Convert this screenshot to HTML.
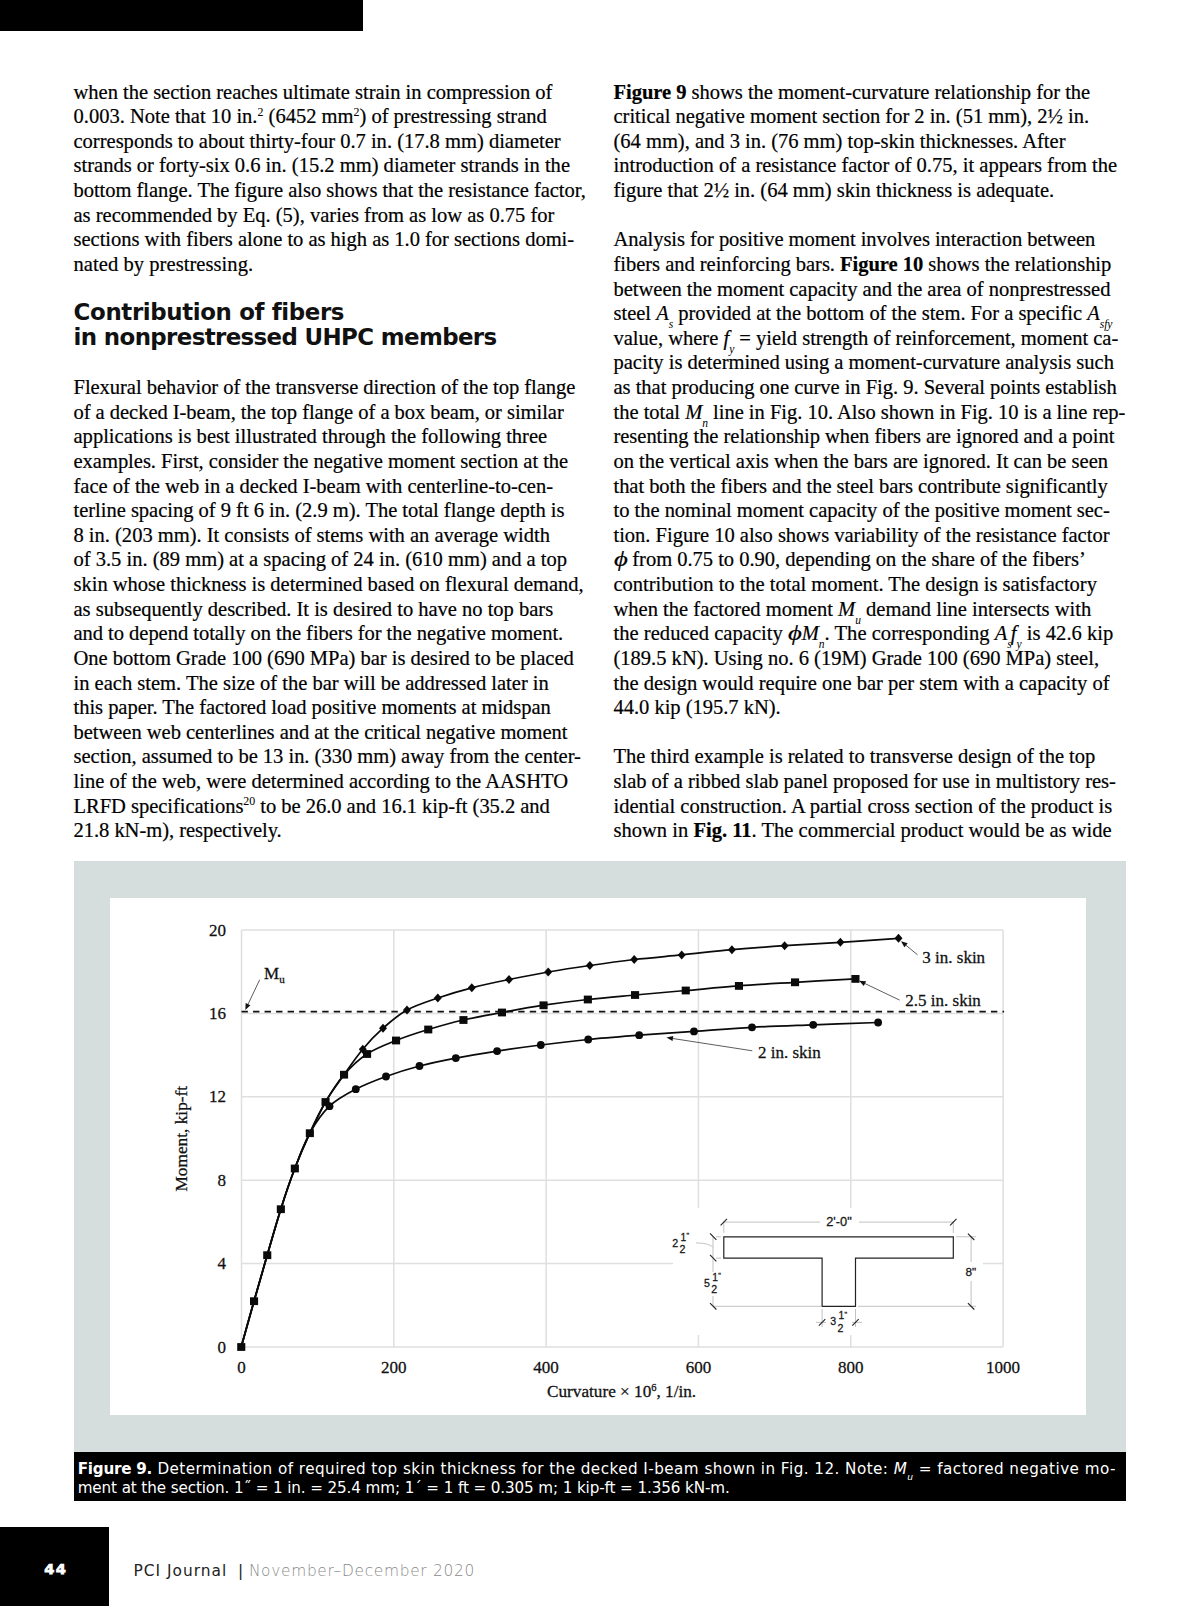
<!DOCTYPE html>
<html lang="en"><head><meta charset="utf-8"><title>PCI Journal page 44</title>
<style>
html,body{margin:0;padding:0;background:#fff;}
body{width:1200px;height:1606px;position:relative;overflow:hidden;font-family:"Liberation Serif",serif;color:#111;}
.ln{position:absolute;white-space:nowrap;font-size:20.55px;line-height:24px;height:24px;color:#000;-webkit-text-stroke:0.2px #000;}
.ln sup{-webkit-text-stroke:0.05px #000;font-size:58%;vertical-align:baseline;position:relative;top:-7.5px;line-height:0;}
.ln sub{-webkit-text-stroke:0;font-size:56%;vertical-align:baseline;position:relative;top:8.2px;line-height:0;font-style:italic;}
.ln sub.t{margin-right:-3px;}
.ln i.phi{display:inline-block;transform:scaleX(1.3);transform-origin:0 50%;margin-right:3px;}
.topbar{position:absolute;left:0;top:0;width:363.1px;height:30.7px;background:#000;}
.h2{position:absolute;left:73.6px;font-family:"DejaVu Sans","Liberation Sans",sans-serif;font-weight:bold;font-size:22.9px;line-height:25px;white-space:nowrap;color:#111;}
.fig{position:absolute;left:74.1px;top:861px;width:1052px;height:591px;background:#d6dedd;}
.plot{position:absolute;left:110.3px;top:897.7px;width:975.9px;height:517.5px;background:#fff;}
.cap{position:absolute;left:74.1px;top:1452px;width:1052px;height:49px;background:#000;color:#fff;font-family:"DejaVu Sans","Liberation Sans",sans-serif;font-size:15.2px;letter-spacing:0.42px;}
.cap div{position:absolute;left:3.6px;white-space:nowrap;line-height:19px;}
.pg{position:absolute;left:0;top:1527.1px;width:108.8px;height:79px;background:#000;}
.pg span{position:absolute;left:43.5px;top:1558.5px;color:#fff;font-family:"Liberation Sans",sans-serif;font-weight:bold;font-size:15.5px;}
.foot{position:absolute;left:133.6px;top:1560.6px;font-family:"DejaVu Sans","Liberation Sans",sans-serif;font-size:15.4px;line-height:20px;white-space:nowrap;color:#222;letter-spacing:0.75px;}
.foot span{color:#8a8a8a;font-weight:200;letter-spacing:0.7px;}
</style></head><body>
<div class="topbar"></div>
<div class="ln" id="a0" style="left:73.5px;top:79.55px;letter-spacing:-0.0266px">when the section reaches ultimate strain in compression of</div>
<div class="ln" id="a1" style="left:73.5px;top:104.17px;letter-spacing:-0.0152px">0.003. Note that 10 in.<sup>2</sup> (6452 mm<sup>2</sup>) of prestressing strand</div>
<div class="ln" id="a2" style="left:73.5px;top:128.80px;letter-spacing:-0.0121px">corresponds to about thirty-four 0.7 in. (17.8 mm) diameter</div>
<div class="ln" id="a3" style="left:73.5px;top:153.42px;letter-spacing:-0.0086px">strands or forty-six 0.6 in. (15.2 mm) diameter strands in the</div>
<div class="ln" id="a4" style="left:73.5px;top:178.04px;letter-spacing:-0.0451px">bottom flange. The figure also shows that the resistance factor,</div>
<div class="ln" id="a5" style="left:73.5px;top:202.66px;letter-spacing:-0.0125px">as recommended by Eq. (5), varies from as low as 0.75 for</div>
<div class="ln" id="a6" style="left:73.5px;top:227.29px;letter-spacing:-0.0248px">sections with fibers alone to as high as 1.0 for sections domi-</div>
<div class="ln" id="a7" style="left:73.5px;top:251.91px;letter-spacing:0.0491px">nated by prestressing.</div>
<div class="h2" id="h1" style="top:300.3px;letter-spacing:-0.37px">Contribution of fibers</div>
<div class="h2" id="h2" style="top:325.3px;letter-spacing:-0.62px">in nonprestressed UHPC members</div>
<div class="ln" id="b0" style="left:73.5px;top:375.03px;letter-spacing:-0.0488px">Flexural behavior of the transverse direction of the top flange</div>
<div class="ln" id="b1" style="left:73.5px;top:399.65px;letter-spacing:-0.0458px">of a decked I-beam, the top flange of a box beam, or similar</div>
<div class="ln" id="b2" style="left:73.5px;top:424.27px;letter-spacing:-0.0089px">applications is best illustrated through the following three</div>
<div class="ln" id="b3" style="left:73.5px;top:448.90px;letter-spacing:-0.0288px">examples. First, consider the negative moment section at the</div>
<div class="ln" id="b4" style="left:73.5px;top:473.52px;letter-spacing:-0.0240px">face of the web in a decked I-beam with centerline-to-cen-</div>
<div class="ln" id="b5" style="left:73.5px;top:498.14px;letter-spacing:-0.0266px">terline spacing of 9 ft 6 in. (2.9 m). The total flange depth is</div>
<div class="ln" id="b6" style="left:73.5px;top:522.76px;letter-spacing:-0.0195px">8 in. (203 mm). It consists of stems with an average width</div>
<div class="ln" id="b7" style="left:73.5px;top:547.39px;letter-spacing:-0.0097px">of 3.5 in. (89 mm) at a spacing of 24 in. (610 mm) and a top</div>
<div class="ln" id="b8" style="left:73.5px;top:572.01px;letter-spacing:-0.0274px">skin whose thickness is determined based on flexural demand,</div>
<div class="ln" id="b9" style="left:73.5px;top:596.63px;letter-spacing:-0.0237px">as subsequently described. It is desired to have no top bars</div>
<div class="ln" id="b10" style="left:73.5px;top:621.26px;letter-spacing:-0.0464px">and to depend totally on the fibers for the negative moment.</div>
<div class="ln" id="b11" style="left:73.5px;top:645.88px;letter-spacing:-0.0215px">One bottom Grade 100 (690 MPa) bar is desired to be placed</div>
<div class="ln" id="b12" style="left:73.5px;top:670.50px;letter-spacing:-0.0122px">in each stem. The size of the bar will be addressed later in</div>
<div class="ln" id="b13" style="left:73.5px;top:695.13px;letter-spacing:-0.0385px">this paper. The factored load positive moments at midspan</div>
<div class="ln" id="b14" style="left:73.5px;top:719.75px;letter-spacing:-0.0392px">between web centerlines and at the critical negative moment</div>
<div class="ln" id="b15" style="left:73.5px;top:744.37px;letter-spacing:-0.0291px">section, assumed to be 13 in. (330 mm) away from the center-</div>
<div class="ln" id="b16" style="left:73.5px;top:768.99px;letter-spacing:-0.0051px">line of the web, were determined according to the AASHTO</div>
<div class="ln" id="b17" style="left:73.5px;top:793.62px;letter-spacing:-0.0413px">LRFD specifications<sup>20</sup> to be 26.0 and 16.1 kip-ft (35.2 and</div>
<div class="ln" id="b18" style="left:73.5px;top:818.24px;letter-spacing:-0.0433px">21.8 kN-m), respectively.</div>
<div class="ln" id="c0" style="left:613.5px;top:79.55px;letter-spacing:-0.0305px"><b>Figure 9</b> shows the moment-curvature relationship for the</div>
<div class="ln" id="c1" style="left:613.5px;top:104.17px;letter-spacing:-0.0265px">critical negative moment section for 2 in. (51 mm), 2½ in.</div>
<div class="ln" id="c2" style="left:613.5px;top:128.80px;letter-spacing:-0.0214px">(64 mm), and 3 in. (76 mm) top-skin thicknesses. After</div>
<div class="ln" id="c3" style="left:613.5px;top:153.42px;letter-spacing:-0.0108px">introduction of a resistance factor of 0.75, it appears from the</div>
<div class="ln" id="c4" style="left:613.5px;top:178.04px;letter-spacing:-0.0197px">figure that 2½ in. (64 mm) skin thickness is adequate.</div>
<div class="ln" id="c6" style="left:613.5px;top:227.29px;letter-spacing:-0.0575px">Analysis for positive moment involves interaction between</div>
<div class="ln" id="c7" style="left:613.5px;top:251.91px;letter-spacing:-0.0376px">fibers and reinforcing bars. <b>Figure 10</b> shows the relationship</div>
<div class="ln" id="c8" style="left:613.5px;top:276.53px;letter-spacing:-0.0302px">between the moment capacity and the area of nonprestressed</div>
<div class="ln" id="c9" style="left:613.5px;top:301.16px;letter-spacing:-0.0258px">steel <i>A</i><sub>s</sub> provided at the bottom of the stem. For a specific <i>A</i><sub>sfy</sub></div>
<div class="ln" id="c10" style="left:613.5px;top:325.78px;letter-spacing:-0.0147px">value, where <i>f</i><sub>y</sub> = yield strength of reinforcement, moment ca-</div>
<div class="ln" id="c11" style="left:613.5px;top:350.40px;letter-spacing:-0.0195px">pacity is determined using a moment-curvature analysis such</div>
<div class="ln" id="c12" style="left:613.5px;top:375.03px;letter-spacing:-0.0362px">as that producing one curve in Fig. 9. Several points establish</div>
<div class="ln" id="c13" style="left:613.5px;top:399.65px;letter-spacing:-0.0281px">the total <i>M</i><sub>n</sub> line in Fig. 10. Also shown in Fig. 10 is a line rep-</div>
<div class="ln" id="c14" style="left:613.5px;top:424.27px;letter-spacing:-0.0485px">resenting the relationship when fibers are ignored and a point</div>
<div class="ln" id="c15" style="left:613.5px;top:448.90px;letter-spacing:-0.0209px">on the vertical axis when the bars are ignored. It can be seen</div>
<div class="ln" id="c16" style="left:613.5px;top:473.52px;letter-spacing:-0.0609px">that both the fibers and the steel bars contribute significantly</div>
<div class="ln" id="c17" style="left:613.5px;top:498.14px;letter-spacing:-0.0321px">to the nominal moment capacity of the positive moment sec-</div>
<div class="ln" id="c18" style="left:613.5px;top:522.76px;letter-spacing:-0.0255px">tion. Figure 10 also shows variability of the resistance factor</div>
<div class="ln" id="c19" style="left:613.5px;top:547.39px;letter-spacing:-0.0233px"><i class="phi">ϕ</i> from 0.75 to 0.90, depending on the share of the fibers’</div>
<div class="ln" id="c20" style="left:613.5px;top:572.01px;letter-spacing:-0.0311px">contribution to the total moment. The design is satisfactory</div>
<div class="ln" id="c21" style="left:613.5px;top:596.63px;letter-spacing:-0.0085px">when the factored moment <i>M</i><sub>u</sub> demand line intersects with</div>
<div class="ln" id="c22" style="left:613.5px;top:621.26px;letter-spacing:0.0246px">the reduced capacity <i class="phi">ϕ</i><i>M</i><sub>n</sub>. The corresponding <i>A</i><sub class="t">s</sub><i style="margin-left:2px">f</i><sub>y</sub> is 42.6 kip</div>
<div class="ln" id="c23" style="left:613.5px;top:645.88px;letter-spacing:-0.0125px">(189.5 kN). Using no. 6 (19M) Grade 100 (690 MPa) steel,</div>
<div class="ln" id="c24" style="left:613.5px;top:670.50px;letter-spacing:-0.0165px">the design would require one bar per stem with a capacity of</div>
<div class="ln" id="c25" style="left:613.5px;top:695.13px;letter-spacing:-0.0316px">44.0 kip (195.7 kN).</div>
<div class="ln" id="c27" style="left:613.5px;top:744.37px;letter-spacing:-0.0145px">The third example is related to transverse design of the top</div>
<div class="ln" id="c28" style="left:613.5px;top:768.99px;letter-spacing:-0.0233px">slab of a ribbed slab panel proposed for use in multistory res-</div>
<div class="ln" id="c29" style="left:613.5px;top:793.62px;letter-spacing:0.0012px">idential construction. A partial cross section of the product is</div>
<div class="ln" id="c30" style="left:613.5px;top:818.24px;letter-spacing:-0.0043px">shown in <b>Fig. 11</b>. The commercial product would be as wide</div>
<div class="fig"></div>
<div class="plot"></div>
<svg style="position:absolute;left:110px;top:898px" width="976" height="517" viewBox="110 898 976 517" font-family="Liberation Serif, serif" fill="#111"><style>text{stroke:#111;stroke-width:.28px}</style>
<path d="M241.50 930.05V1347.0M393.82 930.05V1347.0M546.14 930.05V1347.0M698.46 930.05V1347.0M850.78 930.05V1347.0M1003.10 930.05V1347.0M241.5 1347.00H1003.1M241.5 1263.61H1003.1M241.5 1180.22H1003.1M241.5 1096.83H1003.1M241.5 1013.44H1003.1M241.5 930.05H1003.1" stroke="#dfdfdf" stroke-width="1.5" fill="none"/>
<path d="M241.5 1011.6H1004.1" stroke="#111" stroke-width="1.8" stroke-dasharray="6.4 5.13" fill="none"/>
<rect x="673" y="1208" width="310" height="127" fill="#fff"/>
<path d="M241.2 1347.0C243.4 1339.4 249.7 1316.5 254.0 1301.2C258.3 1286.0 262.8 1270.6 267.2 1255.2C271.7 1239.9 276.2 1223.7 280.8 1209.2C285.3 1194.8 289.9 1181.2 294.8 1168.5C299.6 1155.8 304.0 1143.6 309.8 1133.2C315.5 1122.9 321.8 1113.6 329.5 1106.2C337.2 1098.9 346.3 1094.2 355.8 1089.2C365.2 1084.3 375.4 1080.4 386.0 1076.5C396.6 1072.6 407.9 1069.1 419.5 1066.0C431.1 1062.9 442.8 1060.6 455.8 1058.1C468.7 1055.6 482.9 1053.3 497.1 1051.1C511.3 1048.9 525.6 1046.9 540.8 1045.0C555.9 1043.1 571.8 1041.1 588.2 1039.5C604.7 1037.9 621.6 1036.6 639.2 1035.2C656.9 1033.9 675.2 1032.7 694.0 1031.4C712.8 1030.1 732.1 1028.4 752.0 1027.3C771.9 1026.2 792.2 1025.6 813.2 1024.8C834.2 1024.0 867.3 1022.9 878.1 1022.5" stroke="#0a0a0a" stroke-width="1.75" fill="none" stroke-linejoin="round"/>
<path d="M241.2 1347.0C243.4 1339.4 249.7 1316.5 254.0 1301.2C258.3 1286.0 262.8 1270.6 267.2 1255.2C271.7 1239.9 276.2 1223.7 280.8 1209.2C285.3 1194.8 289.9 1181.2 294.8 1168.5C299.6 1155.8 304.6 1144.3 309.8 1133.2C314.9 1122.2 319.8 1111.8 325.5 1102.0C331.2 1092.2 337.8 1083.5 344.0 1074.8C350.2 1066.0 356.2 1057.0 362.8 1049.2C369.2 1041.5 375.6 1034.8 383.0 1028.2C390.4 1021.7 397.9 1015.0 407.0 1010.0C416.1 1005.0 427.0 1001.7 437.8 998.0C448.5 994.3 459.9 990.8 471.8 987.8C483.6 984.7 496.2 982.1 509.0 979.5C521.8 976.9 534.8 974.3 548.2 972.0C561.7 969.7 575.4 967.6 589.8 965.5C604.1 963.4 618.9 961.3 634.2 959.5C649.6 957.7 665.4 956.5 681.7 954.9C698.0 953.3 714.8 951.2 731.9 949.7C749.0 948.2 766.5 946.9 784.6 945.7C802.7 944.5 821.4 943.5 840.4 942.3C859.4 941.1 888.8 939.0 898.5 938.3" stroke="#0a0a0a" stroke-width="1.75" fill="none" stroke-linejoin="round"/>
<path d="M241.2 1347.0C243.4 1339.4 249.7 1316.5 254.0 1301.2C258.3 1286.0 262.8 1270.6 267.2 1255.2C271.7 1239.9 276.2 1223.7 280.8 1209.2C285.3 1194.8 289.9 1181.2 294.8 1168.5C299.6 1155.8 304.6 1144.3 309.8 1133.2C314.9 1122.2 319.8 1111.8 325.5 1102.0C331.2 1092.2 337.1 1082.8 344.0 1074.8C350.9 1066.8 358.3 1059.7 367.0 1054.0C375.7 1048.3 385.8 1044.6 396.0 1040.5C406.2 1036.4 417.0 1032.9 428.2 1029.5C439.5 1026.1 451.1 1022.8 463.4 1020.0C475.7 1017.2 488.5 1015.0 501.9 1012.5C515.2 1010.0 529.2 1007.4 543.5 1005.2C557.8 1003.1 572.5 1001.2 587.8 999.5C603.0 997.8 618.7 996.5 635.0 995.0C651.3 993.5 668.4 992.0 685.7 990.5C703.0 989.0 720.7 987.3 738.9 985.9C757.1 984.5 775.6 983.5 795.0 982.3C814.4 981.1 845.3 979.5 855.4 978.9" stroke="#0a0a0a" stroke-width="1.75" fill="none" stroke-linejoin="round"/>
<g fill="#0a0a0a"><circle cx="329.5" cy="1106.2" r="3.9"/><circle cx="355.8" cy="1089.2" r="3.9"/><circle cx="386.0" cy="1076.5" r="3.9"/><circle cx="419.5" cy="1066.0" r="3.9"/><circle cx="455.8" cy="1058.1" r="3.9"/><circle cx="497.1" cy="1051.1" r="3.9"/><circle cx="540.8" cy="1045.0" r="3.9"/><circle cx="588.2" cy="1039.5" r="3.9"/><circle cx="639.2" cy="1035.2" r="3.9"/><circle cx="694.0" cy="1031.4" r="3.9"/><circle cx="752.0" cy="1027.3" r="3.9"/><circle cx="813.2" cy="1024.8" r="3.9"/><circle cx="878.1" cy="1022.5" r="3.9"/><path d="M362.8 1044.8l4 4.5l-4 4.5l-4-4.5z"/><path d="M383.0 1023.8l4 4.5l-4 4.5l-4-4.5z"/><path d="M407.0 1005.5l4 4.5l-4 4.5l-4-4.5z"/><path d="M437.8 993.5l4 4.5l-4 4.5l-4-4.5z"/><path d="M471.8 983.2l4 4.5l-4 4.5l-4-4.5z"/><path d="M509.0 975.0l4 4.5l-4 4.5l-4-4.5z"/><path d="M548.2 967.5l4 4.5l-4 4.5l-4-4.5z"/><path d="M589.8 961.0l4 4.5l-4 4.5l-4-4.5z"/><path d="M634.2 955.0l4 4.5l-4 4.5l-4-4.5z"/><path d="M681.7 950.4l4 4.5l-4 4.5l-4-4.5z"/><path d="M731.9 945.2l4 4.5l-4 4.5l-4-4.5z"/><path d="M784.6 941.2l4 4.5l-4 4.5l-4-4.5z"/><path d="M840.4 937.8l4 4.5l-4 4.5l-4-4.5z"/><path d="M898.5 933.8l4 4.5l-4 4.5l-4-4.5z"/><rect x="237.2" y="1343.1" width="8.1" height="7.8"/><rect x="250.0" y="1297.3" width="8.1" height="7.8"/><rect x="263.2" y="1251.3" width="8.1" height="7.8"/><rect x="276.8" y="1205.3" width="8.1" height="7.8"/><rect x="290.8" y="1164.6" width="8.1" height="7.8"/><rect x="305.8" y="1129.3" width="8.1" height="7.8"/><rect x="321.5" y="1098.1" width="8.1" height="7.8"/><rect x="340.0" y="1070.8" width="8.1" height="7.8"/><rect x="363.0" y="1050.1" width="8.1" height="7.8"/><rect x="392.0" y="1036.6" width="8.1" height="7.8"/><rect x="424.2" y="1025.6" width="8.1" height="7.8"/><rect x="459.4" y="1016.1" width="8.1" height="7.8"/><rect x="497.9" y="1008.6" width="8.1" height="7.8"/><rect x="539.5" y="1001.4" width="8.1" height="7.8"/><rect x="583.8" y="995.6" width="8.1" height="7.8"/><rect x="631.0" y="991.1" width="8.1" height="7.8"/><rect x="681.7" y="986.6" width="8.1" height="7.8"/><rect x="734.9" y="982.0" width="8.1" height="7.8"/><rect x="791.0" y="978.4" width="8.1" height="7.8"/><rect x="851.4" y="975.0" width="8.1" height="7.8"/></g>
<text x="226" y="1352.6" font-size="17" text-anchor="end">0</text>
<text x="226" y="1269.2" font-size="17" text-anchor="end">4</text>
<text x="226" y="1185.8" font-size="17" text-anchor="end">8</text>
<text x="226" y="1102.4" font-size="17" text-anchor="end">12</text>
<text x="226" y="1019.0" font-size="17" text-anchor="end">16</text>
<text x="226" y="935.6" font-size="17" text-anchor="end">20</text>
<text x="241.5" y="1373" font-size="17" text-anchor="middle">0</text>
<text x="393.8" y="1373" font-size="17" text-anchor="middle">200</text>
<text x="546.1" y="1373" font-size="17" text-anchor="middle">400</text>
<text x="698.5" y="1373" font-size="17" text-anchor="middle">600</text>
<text x="850.8" y="1373" font-size="17" text-anchor="middle">800</text>
<text x="1003.1" y="1373" font-size="17" text-anchor="middle">1000</text>
<text x="621.6" y="1396.7" font-size="17.2" text-anchor="middle">Curvature × 10<tspan font-size="10.5" dy="-6">6</tspan><tspan dy="6">, 1/in.</tspan></text>
<text transform="translate(186.6 1138.7) rotate(-90)" font-size="17.3" text-anchor="middle">Moment, kip-ft</text>
<text x="264" y="979.2" font-size="17">M<tspan font-size="11" dy="3.6">u</tspan></text>
<text x="922.3" y="963" font-size="17">3 in. skin</text>
<text x="905.3" y="1005.5" font-size="17">2.5 in. skin</text>
<text x="758" y="1058.2" font-size="17">2 in. skin</text>
<path d="M259.7 979.7L248.1 1004.1" stroke="#333" stroke-width="0.8" fill="none"/><path d="M245.3 1010.0L245.7 1003.0L250.4 1005.2z" fill="#111"/>
<path d="M917.5 954.8L906.0 945.3" stroke="#333" stroke-width="0.8" fill="none"/><path d="M901.0 941.2L907.7 943.3L904.4 947.3z" fill="#111"/>
<path d="M899.6 1000.1L865.0 983.6" stroke="#333" stroke-width="0.8" fill="none"/><path d="M859.1 980.8L866.1 981.2L863.8 985.9z" fill="#111"/>
<path d="M752.3 1050.8L672.9 1038.5" stroke="#333" stroke-width="0.8" fill="none"/><path d="M666.5 1037.5L673.3 1035.9L672.5 1041.1z" fill="#111"/>
<path d="M723.8 1236.8H953.3V1258.1H855.5V1306.3H822.1V1258.1H723.8z" fill="#fff" stroke="#222" stroke-width="1.2"/>
<path d="M723.8 1222.1H820M859 1222.1H953.3M723.8 1221V1233M953.3 1221V1233M713 1236.8V1272M713 1296V1306.3M716 1236.8H721M716 1258.1H721M714 1306.3H822M696 1243C704 1243 709 1244 712.6 1247M971.1 1236.8V1262M971.1 1281V1306.3M956 1236.8H976M858 1306.3H976M822.1 1309V1327M855.5 1309V1327M816 1322.4H826M852 1322.4H862" stroke="#a8a8a8" stroke-width="0.7" fill="none"/>
<path d="M720.6 1225.3L727.0 1218.9M950.1 1225.3L956.5 1218.9M818.9 1325.6L825.3 1319.2M852.3 1325.6L858.7 1319.2M710.0 1233.4L716.4 1239.8M710.0 1254.9L716.4 1261.3M710.0 1303.1L716.4 1309.5M967.9 1233.6L974.3 1240.0M967.9 1303.1L974.3 1309.5" stroke="#222" stroke-width="1.1" fill="none"/>
<text x="839" y="1226.4" font-size="12.8" text-anchor="middle" font-family="Liberation Sans, sans-serif" fill="#222">2'-0"</text>
<text x="970.8" y="1275.5" font-size="11.8" text-anchor="middle" font-family="Liberation Sans, sans-serif" fill="#222">8"</text>
<text x="672.2" y="1246.6" font-size="10.6" font-family="Liberation Sans, sans-serif" fill="#222">2</text><text x="680.4000000000001" y="1240.6" font-size="10.2" font-family="Liberation Sans, sans-serif" fill="#222">1</text><text x="686.4000000000001" y="1238.3999999999999" font-size="7.5" font-family="Liberation Sans, sans-serif" fill="#222">"</text><text x="679.4000000000001" y="1252.8" font-size="10.6" font-family="Liberation Sans, sans-serif" fill="#222">2</text>
<text x="704.0" y="1286.5" font-size="10.6" font-family="Liberation Sans, sans-serif" fill="#222">5</text><text x="712.2" y="1280.5" font-size="10.2" font-family="Liberation Sans, sans-serif" fill="#222">1</text><text x="718.2" y="1278.3" font-size="7.5" font-family="Liberation Sans, sans-serif" fill="#222">"</text><text x="711.2" y="1292.7" font-size="10.6" font-family="Liberation Sans, sans-serif" fill="#222">2</text>
<text x="830.3" y="1325.3" font-size="10.6" font-family="Liberation Sans, sans-serif" fill="#222">3</text><text x="838.5" y="1319.3" font-size="10.2" font-family="Liberation Sans, sans-serif" fill="#222">1</text><text x="844.5" y="1317.1" font-size="7.5" font-family="Liberation Sans, sans-serif" fill="#222">"</text><text x="837.5" y="1331.5" font-size="10.6" font-family="Liberation Sans, sans-serif" fill="#222">2</text>
</svg>
<div class="cap"><div id="cap1" style="top:8px;letter-spacing:0.455px"><b style="letter-spacing:-0.25px">Figure 9.</b> Determination of required top skin thickness for the decked I-beam shown in Fig. 12. Note: <i>M</i><sub style="font-size:60%;font-style:italic;vertical-align:baseline;position:relative;top:5.5px">u</sub> = factored negative mo-</div><div id="cap2" style="top:27.2px;letter-spacing:-0.12px">ment at the section. 1˝ = 1 in. = 25.4 mm; 1´ = 1 ft = 0.305 m; 1 kip-ft = 1.356 kN-m.</div></div>
<div class="pg"></div><div class="pgn" id="pgn" style="position:absolute;left:44.2px;top:1559.3px;color:#fff;font-family:'DejaVu Sans','Liberation Sans',sans-serif;font-weight:bold;font-size:14.6px;line-height:20px;-webkit-text-stroke:0.75px #fff;letter-spacing:1.5px">44</div>
<div class="foot" id="foot"><span id="f1" style="color:#222;font-weight:normal;letter-spacing:1.0px">PCI Journal</span><span style="position:absolute;left:104.3px;color:#222;font-weight:normal">|</span><span id="f2" style="position:absolute;left:115.3px">November–December 2020</span></div>
</body></html>
